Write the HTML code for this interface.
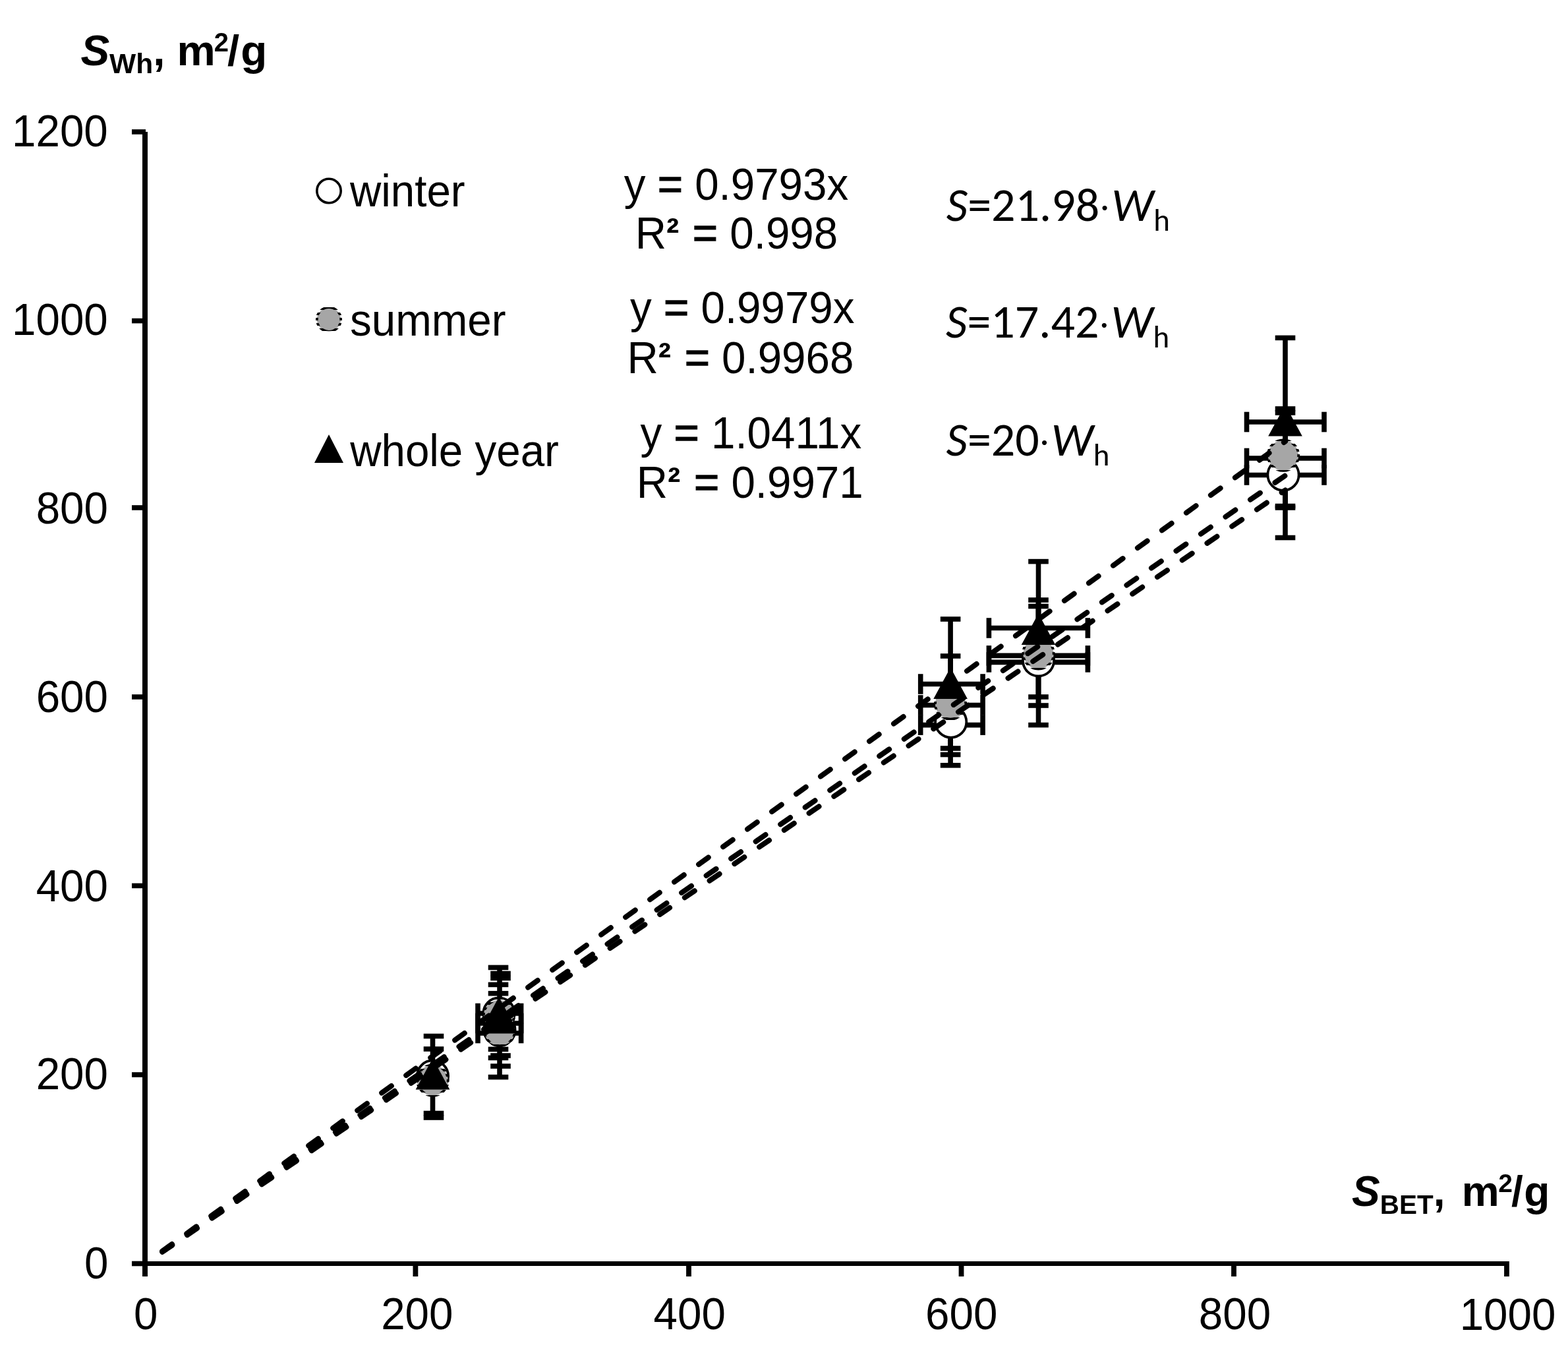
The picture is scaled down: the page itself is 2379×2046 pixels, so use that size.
<!DOCTYPE html>
<html><head><meta charset="utf-8"><title>S_Wh vs S_BET</title><style>html,body{margin:0;padding:0;background:#fff;width:2379px;height:2046px;overflow:hidden}svg{display:block}</style></head><body>
<svg width="2379" height="2046" viewBox="0 0 2379 2046">
<defs><pattern id="st10" patternUnits="userSpaceOnUse" x="0" y="1" width="8" height="8"><rect width="8" height="4" fill="#000"/></pattern><pattern id="st50" patternUnits="userSpaceOnUse" x="0" y="5" width="8" height="8"><rect width="8" height="4" fill="#000"/></pattern><pattern id="st0" patternUnits="userSpaceOnUse" x="0" y="0" width="8" height="8"><rect width="8" height="4" fill="#000"/></pattern><pattern id="st20" patternUnits="userSpaceOnUse" x="0" y="2.0" width="8" height="8"><rect width="8" height="4" fill="#000"/></pattern></defs>
<rect width="2379" height="2046" fill="#fff"/>
<g fill="#000">
<text id="yl0" x="164.40" y="1938.70" font-family='"Liberation Sans", Arial, sans-serif' font-size="65.5" text-anchor="end" transform="matrix(1 0 0 1.05 0 -96.94)" >0</text>
<text id="yl1" x="163.90" y="1652.45" font-family='"Liberation Sans", Arial, sans-serif' font-size="65.5" text-anchor="end" transform="matrix(1 0 0 1.05 0 -82.62)" >200</text>
<text id="yl2" x="163.90" y="1366.75" font-family='"Liberation Sans", Arial, sans-serif' font-size="65.5" text-anchor="end" transform="matrix(1 0 0 1.05 0 -68.34)" >400</text>
<text id="yl3" x="163.90" y="1080.20" font-family='"Liberation Sans", Arial, sans-serif' font-size="65.5" text-anchor="end" transform="matrix(1 0 0 1.05 0 -54.01)" >600</text>
<text id="yl4" x="163.90" y="794.20" font-family='"Liberation Sans", Arial, sans-serif' font-size="65.5" text-anchor="end" transform="matrix(1 0 0 1.05 0 -39.71)" >800</text>
<text id="yl5" x="163.80" y="508.10" font-family='"Liberation Sans", Arial, sans-serif' font-size="65.5" text-anchor="end" transform="matrix(1 0 0 1.05 0 -25.41)" >1000</text>
<text id="yl6" x="163.80" y="222.20" font-family='"Liberation Sans", Arial, sans-serif' font-size="65.5" text-anchor="end" transform="matrix(1 0 0 1.05 0 -11.11)" >1200</text>
<text id="xl0" x="221.20" y="2016.40" font-family='"Liberation Sans", Arial, sans-serif' font-size="65.5" text-anchor="middle" transform="matrix(1 0 0 1.05 0 -100.82)" >0</text>
<text id="xl1" x="632.80" y="2016.50" font-family='"Liberation Sans", Arial, sans-serif' font-size="65.5" text-anchor="middle" transform="matrix(1 0 0 1.05 0 -100.83)" >200</text>
<text id="xl2" x="1046.20" y="2016.10" font-family='"Liberation Sans", Arial, sans-serif' font-size="65.5" text-anchor="middle" transform="matrix(1 0 0 1.05 0 -100.81)" >400</text>
<text id="xl3" x="1458.70" y="2016.10" font-family='"Liberation Sans", Arial, sans-serif' font-size="65.5" text-anchor="middle" transform="matrix(1 0 0 1.05 0 -100.81)" >600</text>
<text id="xl4" x="1873.50" y="2016.10" font-family='"Liberation Sans", Arial, sans-serif' font-size="65.5" text-anchor="middle" transform="matrix(1 0 0 1.05 0 -100.81)" >800</text>
<text id="xl5" x="2287.50" y="2017.00" font-family='"Liberation Sans", Arial, sans-serif' font-size="65.5" text-anchor="middle" transform="matrix(1 0 0 1.05 0 -100.85)" >1000</text>
<text id="ytitle" x="122.40" y="99.30" font-family='"Liberation Sans", Arial, sans-serif' font-size="65.5" text-anchor="start" ><tspan font-weight="bold" font-style="italic">S</tspan><tspan font-weight="bold" font-size="42.5" dy="12">Wh</tspan><tspan font-weight="bold" dy="-12">, m</tspan><tspan font-weight="bold" font-size="40" dy="-21" dx="-2">2</tspan><tspan font-weight="bold" dy="21" dx="-2">/</tspan><tspan font-weight="bold" dx="2">g</tspan></text>
<text id="xtitle" x="2051.10" y="1828.60" font-family='"Liberation Sans", Arial, sans-serif' font-size="64" text-anchor="start" ><tspan font-weight="bold" font-style="italic">S</tspan><tspan font-weight="bold" font-size="40.5" dy="12">BET</tspan><tspan font-weight="bold" dy="-12">, </tspan><tspan font-weight="bold" dx="7.5">m</tspan><tspan font-weight="bold" font-size="39" dy="-21" dx="-1.4">2</tspan><tspan font-weight="bold" dy="21" dx="-2">/</tspan><tspan font-weight="bold" dx="1.5">g</tspan></text>
<circle cx="499" cy="289.5" r="18.2" fill="#fff" stroke="#000" stroke-width="3.6"/>
<circle cx="499" cy="484.5" r="18.2" fill="#a6a6a6" stroke="url(#st20)" stroke-width="3.6"/>
<polygon points="499,659 521,702 477,702" fill="#000"/>
<text id="lg1" x="531.00" y="312.80" font-family='"Liberation Sans", Arial, sans-serif' font-size="65.5" text-anchor="start" transform="matrix(1 0 0 1.05 0 -15.64)" >winter</text>
<text id="lg2" x="531.00" y="508.90" font-family='"Liberation Sans", Arial, sans-serif' font-size="65.5" text-anchor="start" transform="matrix(1 0 0 1.05 0 -25.45)" >summer</text>
<text id="lg3" x="531.20" y="707.00" font-family='"Liberation Sans", Arial, sans-serif' font-size="65.5" text-anchor="start" transform="matrix(1 0 0 1.05 0 -35.35)" >whole year</text>
<text id="e1a" x="1117.00" y="302.60" font-family='"Liberation Sans", Arial, sans-serif' font-size="65.5" text-anchor="middle" transform="matrix(1 0 0 1.05 0 -15.13)" >y <tspan stroke="#000" stroke-width="1.2">=</tspan> 0.9793x</text>
<text id="e1b" x="1117.40" y="376.90" font-family='"Liberation Sans", Arial, sans-serif' font-size="65.5" text-anchor="middle" transform="matrix(1 0 0 1.05 0 -18.85)" >R<tspan font-weight="bold" font-size="58" dy="-3">²</tspan><tspan dy="3" dx="2.4"> </tspan><tspan stroke="#000" stroke-width="1.2">=</tspan> 0.998</text>
<text id="e2a" x="1126.30" y="490.50" font-family='"Liberation Sans", Arial, sans-serif' font-size="65.5" text-anchor="middle" transform="matrix(1 0 0 1.05 0 -24.53)" >y <tspan stroke="#000" stroke-width="1.2">=</tspan> 0.9979x</text>
<text id="e2b" x="1123.40" y="566.00" font-family='"Liberation Sans", Arial, sans-serif' font-size="65.5" text-anchor="middle" transform="matrix(1 0 0 1.05 0 -28.30)" >R<tspan font-weight="bold" font-size="58" dy="-3">²</tspan><tspan dy="3" dx="2.4"> </tspan><tspan stroke="#000" stroke-width="1.2">=</tspan> 0.9968</text>
<text id="e3a" x="1139.40" y="680.00" font-family='"Liberation Sans", Arial, sans-serif' font-size="65.5" text-anchor="middle" transform="matrix(1 0 0 1.05 0 -34.00)" >y <tspan stroke="#000" stroke-width="1.2">=</tspan> 1.0411x</text>
<text id="e3b" x="1137.70" y="755.00" font-family='"Liberation Sans", Arial, sans-serif' font-size="65.5" text-anchor="middle" transform="matrix(1 0 0 1.05 0 -37.75)" >R<tspan font-weight="bold" font-size="58" dy="-3">²</tspan><tspan dy="3" dx="2.4"> </tspan><tspan stroke="#000" stroke-width="1.2">=</tspan> 0.9971</text>
<text id="s1" x="1435.80" y="334.50" font-family='Carlito, Calibri, "Liberation Sans", sans-serif' font-size="72" text-anchor="start" style="font-size-adjust:0.4775"><tspan font-style="italic">S</tspan>=21.98<tspan font-size="50" dy="-5.4" dx="1.5">·</tspan><tspan font-style="italic" dy="5.4" dx="4.1">W</tspan><tspan font-size="47" dy="15">h</tspan></text>
<text id="s2" x="1435.10" y="512.20" font-family='Carlito, Calibri, "Liberation Sans", sans-serif' font-size="72" text-anchor="start" style="font-size-adjust:0.4775"><tspan font-style="italic">S</tspan>=17.42<tspan font-size="50" dy="-5.4" dx="1.5">·</tspan><tspan font-style="italic" dy="5.4" dx="4.1">W</tspan><tspan font-size="47" dy="15">h</tspan></text>
<text id="s3" x="1435.50" y="690.60" font-family='Carlito, Calibri, "Liberation Sans", sans-serif' font-size="72" text-anchor="start" style="font-size-adjust:0.4775"><tspan font-style="italic">S</tspan>=20<tspan font-size="50" dy="-5.4" dx="1.5">·</tspan><tspan font-style="italic" dy="5.4" dx="4.1">W</tspan><tspan font-size="47" dy="15">h</tspan></text>
</g>
<g stroke="#000" stroke-width="7.6" stroke-linecap="butt"><line x1="1950" y1="512.4" x2="1950" y2="767.6"/><line x1="1934.7" y1="512.4" x2="1965.3" y2="512.4"/><line x1="1934.7" y1="767.6" x2="1965.3" y2="767.6"/><line x1="1891.5" y1="640" x2="2009" y2="640"/><line x1="1891.5" y1="624.7" x2="1891.5" y2="655.3"/><line x1="2009" y1="624.7" x2="2009" y2="655.3"/><line x1="1950" y1="620" x2="1950" y2="770"/><line x1="1934.7" y1="620" x2="1965.3" y2="620"/><line x1="1934.7" y1="770" x2="1965.3" y2="770"/><line x1="1891.5" y1="695" x2="2009" y2="695"/><line x1="1891.5" y1="679.7" x2="1891.5" y2="710.3"/><line x1="2009" y1="679.7" x2="2009" y2="710.3"/><line x1="1950" y1="626" x2="1950" y2="815.5"/><line x1="1934.7" y1="626" x2="1965.3" y2="626"/><line x1="1934.7" y1="815.5" x2="1965.3" y2="815.5"/><line x1="1891.5" y1="720.5" x2="2009" y2="720.5"/><line x1="1891.5" y1="705.2" x2="1891.5" y2="735.8"/><line x1="2009" y1="705.2" x2="2009" y2="735.8"/><line x1="1575.5" y1="851.6" x2="1575.5" y2="1057"/><line x1="1560.2" y1="851.6" x2="1590.8" y2="851.6"/><line x1="1560.2" y1="1057" x2="1590.8" y2="1057"/><line x1="1500.4" y1="952.5" x2="1650.4" y2="952.5"/><line x1="1500.4" y1="937.2" x2="1500.4" y2="967.8"/><line x1="1650.4" y1="937.2" x2="1650.4" y2="967.8"/><line x1="1575.5" y1="919.5" x2="1575.5" y2="1070"/><line x1="1560.2" y1="919.5" x2="1590.8" y2="919.5"/><line x1="1560.2" y1="1070" x2="1590.8" y2="1070"/><line x1="1500.4" y1="994.4" x2="1650.4" y2="994.4"/><line x1="1500.4" y1="979.1" x2="1500.4" y2="1009.7"/><line x1="1650.4" y1="979.1" x2="1650.4" y2="1009.7"/><line x1="1575.5" y1="910" x2="1575.5" y2="1099.6"/><line x1="1560.2" y1="910" x2="1590.8" y2="910"/><line x1="1560.2" y1="1099.6" x2="1590.8" y2="1099.6"/><line x1="1500.4" y1="1004.4" x2="1650.4" y2="1004.4"/><line x1="1500.4" y1="989.1" x2="1500.4" y2="1019.7"/><line x1="1650.4" y1="989.1" x2="1650.4" y2="1019.7"/><line x1="1442.1" y1="939" x2="1442.1" y2="1135"/><line x1="1426.8" y1="939" x2="1457.4" y2="939"/><line x1="1426.8" y1="1135" x2="1457.4" y2="1135"/><line x1="1396.7" y1="1037.5" x2="1491.1" y2="1037.5"/><line x1="1396.7" y1="1022.2" x2="1396.7" y2="1052.8"/><line x1="1491.1" y1="1022.2" x2="1491.1" y2="1052.8"/><line x1="1442.1" y1="995" x2="1442.1" y2="1144.5"/><line x1="1426.8" y1="995" x2="1457.4" y2="995"/><line x1="1426.8" y1="1144.5" x2="1457.4" y2="1144.5"/><line x1="1396.7" y1="1069.5" x2="1491.1" y2="1069.5"/><line x1="1396.7" y1="1054.2" x2="1396.7" y2="1084.8"/><line x1="1491.1" y1="1054.2" x2="1491.1" y2="1084.8"/><line x1="1442.1" y1="1038" x2="1442.1" y2="1160.8"/><line x1="1426.8" y1="1038" x2="1457.4" y2="1038"/><line x1="1426.8" y1="1160.8" x2="1457.4" y2="1160.8"/><line x1="1396.7" y1="1099.6" x2="1491.1" y2="1099.6"/><line x1="1396.7" y1="1084.3" x2="1396.7" y2="1114.9"/><line x1="1491.1" y1="1084.3" x2="1491.1" y2="1114.9"/><line x1="758" y1="1467.4" x2="758" y2="1633.6"/><line x1="740.7" y1="1467.4" x2="771.3" y2="1467.4"/><line x1="740.7" y1="1493.4" x2="771.3" y2="1493.4"/><line x1="740.7" y1="1506.7" x2="771.3" y2="1506.7"/><line x1="740.7" y1="1591.4" x2="771.3" y2="1591.4"/><line x1="740.7" y1="1604.4" x2="771.3" y2="1604.4"/><line x1="740.7" y1="1633.6" x2="771.3" y2="1633.6"/><line x1="744.2" y1="1476.5" x2="774.8" y2="1476.5"/><line x1="744.2" y1="1483.5" x2="774.8" y2="1483.5"/><line x1="744.2" y1="1601" x2="774.8" y2="1601"/><line x1="744.2" y1="1617" x2="774.8" y2="1617"/><line x1="725" y1="1537" x2="790.6" y2="1537"/><line x1="725" y1="1521.7" x2="725" y2="1552.3"/><line x1="790.6" y1="1521.7" x2="790.6" y2="1552.3"/><line x1="725" y1="1552" x2="790.6" y2="1552"/><line x1="725" y1="1536.7" x2="725" y2="1567.3"/><line x1="790.6" y1="1536.7" x2="790.6" y2="1567.3"/><line x1="725" y1="1567" x2="790.6" y2="1567"/><line x1="725" y1="1551.7" x2="725" y2="1582.3"/><line x1="790.6" y1="1551.7" x2="790.6" y2="1582.3"/><line x1="656.5" y1="1571.5" x2="656.5" y2="1695"/><line x1="642.7" y1="1571.5" x2="673.3" y2="1571.5"/><line x1="642.7" y1="1591" x2="673.3" y2="1591"/><line x1="642.7" y1="1688.5" x2="673.3" y2="1688.5"/><line x1="642.7" y1="1695" x2="673.3" y2="1695"/></g>
<circle cx="1947" cy="720.2" r="23.6" fill="#fff" stroke="#000" stroke-width="3.8"/>
<circle cx="1575.5" cy="1001.8" r="23.6" fill="#fff" stroke="#000" stroke-width="3.8"/>
<circle cx="1442.6999999999998" cy="1095" r="23.6" fill="#fff" stroke="#000" stroke-width="3.8"/>
<circle cx="757" cy="1537" r="23.6" fill="#fff" stroke="#000" stroke-width="3.8"/>
<circle cx="758" cy="1562" r="23.6" fill="#fff" stroke="#000" stroke-width="3.8"/>
<circle cx="656.5" cy="1632" r="23.6" fill="#fff" stroke="#000" stroke-width="3.8"/>
<circle cx="1947" cy="690.7" r="23.2" fill="#a6a6a6" stroke="url(#st10)" stroke-width="3.8"/>
<circle cx="1575.5" cy="991.3" r="23.2" fill="#a6a6a6" stroke="url(#st50)" stroke-width="3.8"/>
<circle cx="1442.1" cy="1067.5" r="23.2" fill="#a6a6a6" stroke="url(#st0)" stroke-width="3.8"/>
<circle cx="757" cy="1540" r="23.2" fill="#a6a6a6" stroke="url(#st0)" stroke-width="3.8"/>
<circle cx="758" cy="1563" r="23.2" fill="#a6a6a6" stroke="url(#st0)" stroke-width="3.8"/>
<circle cx="656.5" cy="1638.5" r="23.2" fill="#a6a6a6" stroke="url(#st50)" stroke-width="3.8"/>
<polygon points="1950,614 1975.8,661.5 1924.2,661.5" fill="#000"/>
<polygon points="1575.5,930.5 1601.3,978.0 1549.7,978.0" fill="#000"/>
<polygon points="1442.1,1012.4000000000001 1467.8999999999999,1059.9 1416.3,1059.9" fill="#000"/>
<polygon points="757,1512 782.8,1559.5 731.2,1559.5" fill="#000"/>
<polygon points="759,1520 784.8,1567.5 733.2,1567.5" fill="#000"/>
<polygon points="656.5,1605 682.3,1652.5 630.7,1652.5" fill="#000"/>
<g stroke="#000" stroke-width="8" stroke-linecap="round" stroke-dasharray="18 27.6" fill="none"><line x1="246.3" y1="1898.67" x2="1950.0" y2="743.51"/><line x1="246.3" y1="1898.33" x2="1950.0" y2="721.23"/><line x1="246.3" y1="1897.54" x2="1950.0" y2="669.49"/></g>
<line x1="220" y1="200" x2="220" y2="1936" stroke="#000" stroke-width="8"/>
<line x1="200" y1="1916.5" x2="2286" y2="1916.5" stroke="#000" stroke-width="7.2"/>
<line x1="200" y1="1916.5" x2="221" y2="1916.5" stroke="#000" stroke-width="7.6"/>
<line x1="200" y1="1630" x2="221" y2="1630" stroke="#000" stroke-width="7.6"/>
<line x1="200" y1="1343.4" x2="221" y2="1343.4" stroke="#000" stroke-width="7.6"/>
<line x1="200" y1="1057" x2="221" y2="1057" stroke="#000" stroke-width="7.6"/>
<line x1="200" y1="770" x2="221" y2="770" stroke="#000" stroke-width="7.6"/>
<line x1="200" y1="486.6" x2="221" y2="486.6" stroke="#000" stroke-width="7.6"/>
<line x1="200" y1="200" x2="221" y2="200" stroke="#000" stroke-width="7.6"/>
<line x1="220" y1="1913" x2="220" y2="1936" stroke="#000" stroke-width="7.8"/>
<line x1="630.4" y1="1913" x2="630.4" y2="1936" stroke="#000" stroke-width="7.8"/>
<line x1="1045" y1="1913" x2="1045" y2="1936" stroke="#000" stroke-width="7.8"/>
<line x1="1458.5" y1="1913" x2="1458.5" y2="1936" stroke="#000" stroke-width="7.8"/>
<line x1="1872" y1="1913" x2="1872" y2="1936" stroke="#000" stroke-width="7.8"/>
<line x1="2286" y1="1913" x2="2286" y2="1936" stroke="#000" stroke-width="7.8"/>
</svg>
</body></html>
